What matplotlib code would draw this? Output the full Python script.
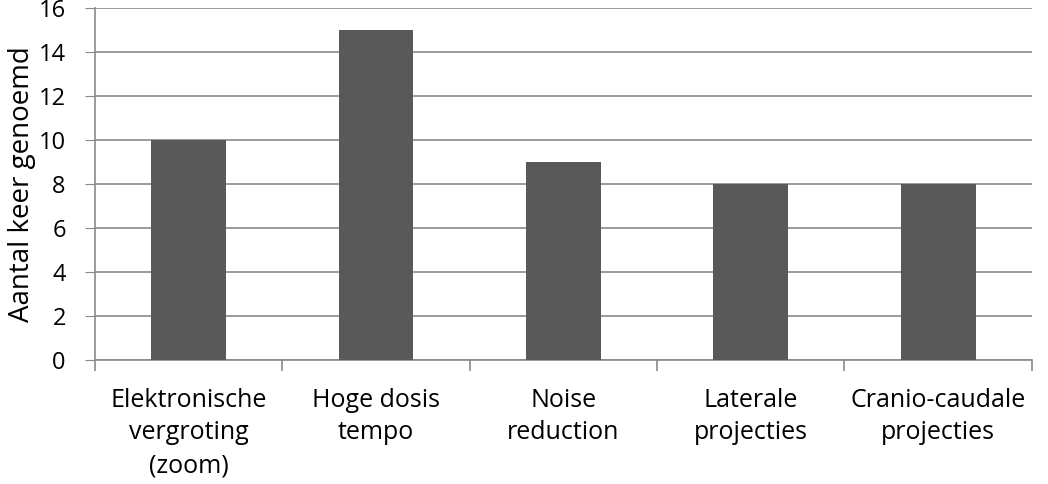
import matplotlib
matplotlib.use("Agg")
import matplotlib.pyplot as plt
import numpy as np

categories = ["Elektronische\nvergroting\n(zoom)", "Hoge dosis\ntempo", "Noise\nreduction",
              "Laterale\nprojecties", "Cranio-caudale\nprojecties"]
values = [10, 15, 9, 8, 8]
y_ticks = [0, 2, 4, 6, 8, 10, 12, 14, 16]

plt.rcParams['font.family'] = ['Open Sans', 'DejaVu Sans']

fig = plt.figure(figsize=(10.48, 4.84), dpi=100)
ax = fig.add_axes([0.0906, 0.256, 0.894, 0.7275])

x = np.arange(len(categories))
ax.bar(x, values, width=0.4, color='#595959', zorder=3)

ax.set_xlim(-0.5, len(categories) - 0.5)
ax.set_ylim(0, 16)
ax.set_yticks(y_ticks)
ax.yaxis.grid(True, color='#8a8a8a', linewidth=1.2, zorder=0)
ax.tick_params(axis='y', length=7, color='#8a8a8a', labelsize=17, pad=14)

ax.set_xticks(x)
ax.set_xticklabels(categories, fontsize=18, linespacing=1.4)
ax.tick_params(axis='x', length=0, pad=20)
# category separators
ax.set_xticks(np.arange(len(categories) + 1) - 0.5, minor=True)
ax.tick_params(axis='x', which='minor', length=8, color='#8a8a8a', width=1.2)

for s in ['top', 'right']:
    ax.spines[s].set_visible(False)
for s in ['left', 'bottom']:
    ax.spines[s].set_color('#8a8a8a')
    ax.spines[s].set_linewidth(1.2)

ax.set_ylabel('Aantal keer genoemd', fontsize=20, labelpad=2)

fig.savefig('out.png', dpi=100)
